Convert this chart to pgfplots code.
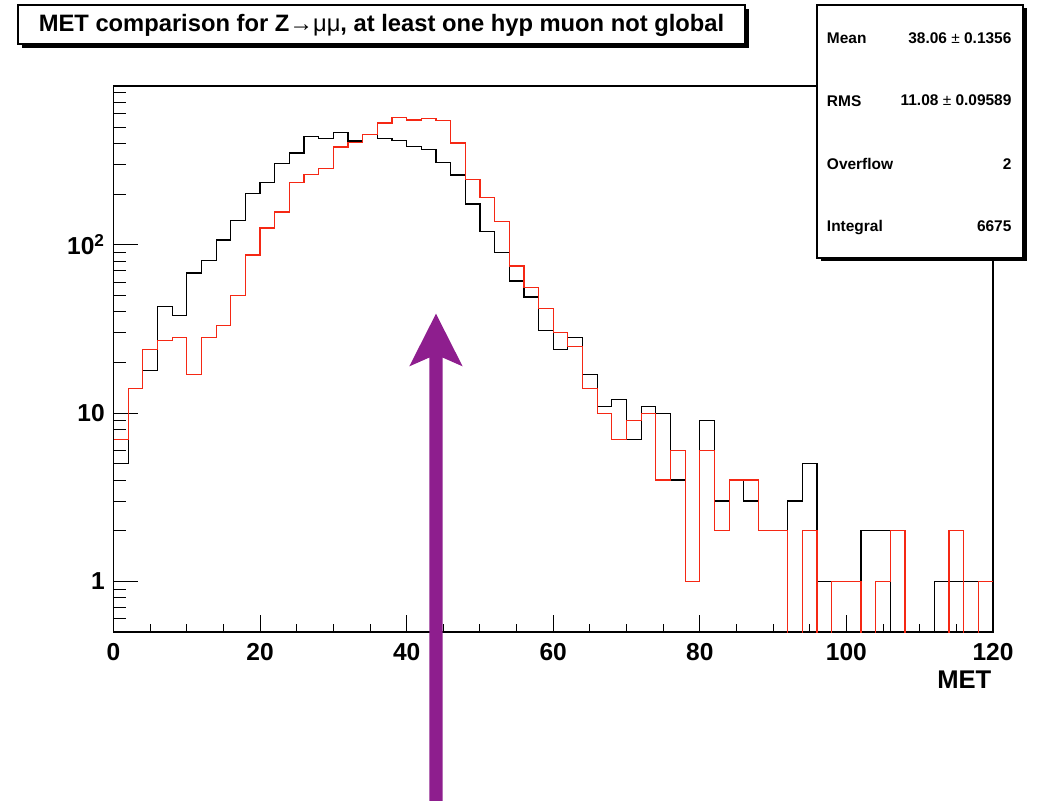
\documentclass[border=0pt]{standalone}
\usepackage{pgfplots}
\pgfplotsset{compat=1.18}
\usepackage{pgfplotstable}
\usepackage{fontspec}
\setmainfont{Liberation Sans}
\definecolor{rootred}{RGB}{245,40,20}
\definecolor{arrowpurple}{RGB}{142,30,142}

% bin left edge, black histogram, red histogram (0.01 = empty bin)
\pgfplotstableread{
x black red
0 5 7
2 14 14
4 18 24
6 43 27
8 38 28
10 68 17
12 81 28
14 107 33
16 140 50
18 202 87
20 236 126
22 305 157
24 352 235
26 441 262
28 429 285
30 465 382
32 415 408
34 455 453
36 429 531
38 419 571
40 384 553
42 371 563
44 309 548
46 260 403
48 175 244
50 120 191
52 90 137
54 61 75
56 49 56
58 31 42
60 24 30
62 28 25
64 17 14
66 11 10
68 12 7
70 7 9
72 11 10
74 10 4
76 4 6
78 1 1
80 9 6
82 3 2
84 4 4
86 3 4
88 2 2
90 2 2
92 3 0.01
94 5 2
96 1 0.01
98 0.01 1
100 0.01 1
102 2 0.01
104 2 1
106 0.01 2
108 0.01 0.01
110 0.01 0.01
112 1 0.01
114 1 2
116 1 0.01
118 1 1
120 1 1
}\hist

\begin{document}
\begin{tikzpicture}
\begin{axis}[
  at={(0,0)}, anchor=south west,
  scale only axis, width=659.6pt, height=409.5pt,
  xmin=0, xmax=120, ymode=log, ymin=0.5, ymax=880,
  xtick={0,20,40,60,80,100,120},
  xticklabels={0,20,40,60,80,100,120},
  minor x tick num=3,
  ytick={1,10,100},
  yticklabels={1,10,10\textsuperscript{2}},
  minor ytick={0.6,0.7,0.8,0.9,2,3,4,5,6,7,8,9,20,30,40,50,60,70,80,90,200,300,400,500,600,700,800},
  xtick pos=left, ytick pos=left,
  tick align=inside,
  xtick style={black, line width=0.75pt, /pgfplots/major tick length=12.75pt, /pgfplots/minor tick length=6.4pt},
  ytick style={black, line width=0.75pt, /pgfplots/major tick length=18pt, /pgfplots/minor tick length=9pt},
  axis line style={line width=1.4pt},
  xticklabel style={font=\bfseries\fontsize{18.4}{18.4}\selectfont, anchor=north, inner sep=0pt, yshift=-8pt},
  yticklabel style={font=\bfseries\fontsize{18.4}{18.4}\selectfont, anchor=east, inner sep=0pt, xshift=-6.4pt},
  xlabel={MET},
  xlabel style={at={(rel axis cs:1,0)}, anchor=north east, inner sep=0pt, yshift=-29pt, xshift=-1pt, font=\bfseries\fontsize{19.2}{19.2}\selectfont},
]
\addplot[const plot, black, line width=0.9pt] table[x=x, y=black] {\hist};
\addplot[const plot, rootred, line width=0.9pt] table[x=x, y=red] {\hist};
\coordinate (tip) at (axis cs:44,39);
\end{axis}
% arrow
\fill[arrowpurple, shift={(tip)}] (0,0) -- (20pt,-39.5pt) -- (5pt,-32.9pt) -- (5pt,-380pt) -- (-5pt,-380pt) -- (-5pt,-32.9pt) -- (-20pt,-39.5pt) -- cycle;
% boxes in image pixel coordinates
\begin{scope}[x=0.75pt, y=-0.75pt, shift={(-85.125pt,474pt)}]
  % title box
  \fill[black] (22,9) rectangle (749,48);
  \filldraw[fill=white, draw=black, line width=0.8pt] (18,5) rectangle (745,44);
  \node[font=\bfseries\fontsize{17.8}{17.8}\selectfont, inner sep=0pt] at (381.5,25) {MET comparison for Z{\mdseries →μμ}, at least one hyp muon not global};
  % stats box
  \fill[black] (820.5,8.5) rectangle (1026.5,261.5);
  \filldraw[fill=white, draw=black, line width=0.8pt] (817,5) rectangle (1023,258);
  \begin{scope}[every node/.style={font=\bfseries\fontsize{11.6}{11.6}\selectfont, inner sep=0pt}]
    \node[anchor=base west] at (826.7,43.3) {Mean};
    \node[anchor=base east] at (1011.7,43.3) {38.06 {\mdseries ±} 0.1356};
    \node[anchor=base west] at (826.7,107) {RMS};
    \node[anchor=base east] at (1011.7,106) {11.08 {\mdseries ±} 0.09589};
    \node[anchor=base west] at (826.7,169.3) {Overflow};
    \node[anchor=base east] at (1011.7,169.3) {2};
    \node[anchor=base west] at (826.7,231.7) {Integral};
    \node[anchor=base east] at (1011.7,231.7) {6675};
  \end{scope}
  \pgfresetboundingbox
  \path (0,0) rectangle (1041,800);
\end{scope}
\end{tikzpicture}
\end{document}
